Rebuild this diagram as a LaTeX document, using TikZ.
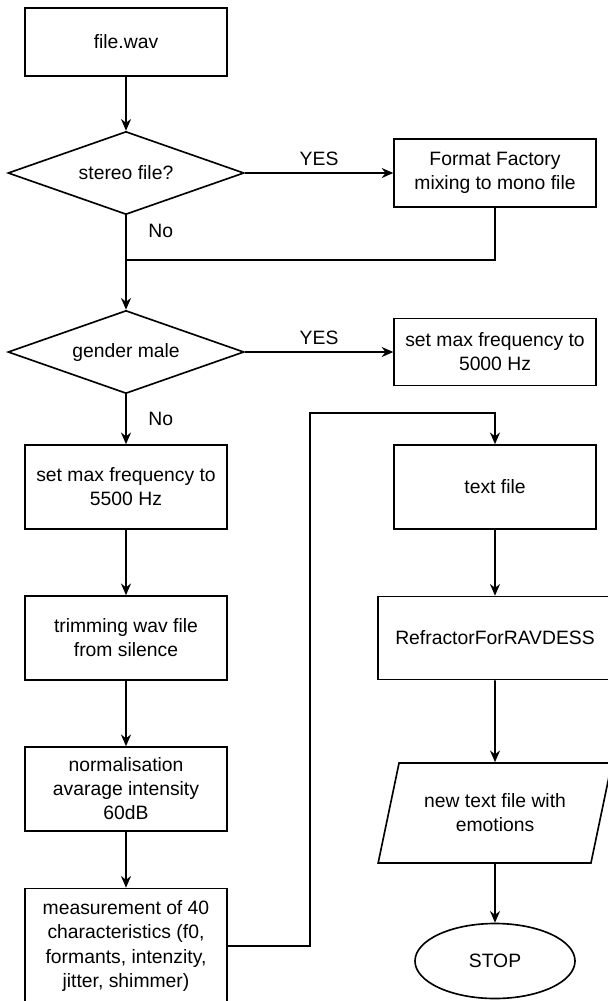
\documentclass[tikz,border=0pt]{standalone}
\usepackage{fontspec}
\setmainfont{Liberation Sans}
\usetikzlibrary{arrows.meta,shapes.geometric,positioning}
\begin{document}
\begin{tikzpicture}[>={Stealth[length=3.5mm,width=3mm]},x=0.03cm,y=-0.03cm,line width=1.4pt,
		font=\fontsize{16.5}{20.5}\selectfont,
		box/.style={draw,rectangle,align=center,inner sep=0pt,minimum width=6.05cm,minimum height=2.52cm},
		decision/.style={draw,diamond,aspect=2.84,inner sep=0pt,minimum width=7.08cm,minimum height=2.49cm},
		data/.style={draw,trapezium,trapezium left angle=68,trapezium right angle=112,trapezium stretches=true,
			align=center,inner sep=0pt,minimum width=7.02cm,minimum height=3cm},
		term/.style={draw,ellipse,minimum width=4.8cm,minimum height=2.25cm},
		lbl/.style={inner sep=0.2cm}]
	\useasboundingbox (0,0) rectangle (607,1001);
	% left column
	\node[box,minimum height=2.04cm] (wav) at (126,42) {file.wav};
	\node[decision] (stereo) at (126,173) {stereo file?};
	\node[box,minimum height=2.04cm] (mono) at (495,173) {Format Factory\\mixing to mono file};
	\coordinate (merge) at (126,260);
	\node[decision] (gender) at (126,352) {gender male};
	\node[box,minimum height=2.01cm] (hz5000) at (495,352) {set max frequency to\\5000 Hz};
	\node[box] (hz5500) at (126,487) {set max frequency to\\5500 Hz};
	\node[box] (trim) at (126,638) {trimming wav file\\from silence};
	\node[box] (norm) at (126,789) {normalisation\\avarage intensity\\60dB};
	\node[box,minimum height=3.45cm] (meas) at (126,946) {measurement of 40\\characteristics (f0,\\formants, intenzity,\\jitter, shimmer)};
	% right column
	\coordinate (loop) at (310,413);
	\node[box] (txt) at (495,487) {text file};
	\node[box,minimum width=7.02cm,minimum height=2.49cm] (refr) at (495,638) {RefractorForRAVDESS};
	\node[data] (emo) at (495,813) {new text file with\\emotions};
	\node[term] (stop) at (495,961) {STOP};
	% connectors
	\draw[->] (wav) -- (stereo);
	\draw[->] (stereo.east) -- node[lbl,above] (yes1) {YES} (mono.west);
	\draw (stereo.south) -- node[lbl,right=0.45cm,pos=0.35] (no1) {No} (merge);
	\draw (mono.south) |- (merge);
	\draw[->] (merge) -- (gender.north);
	\draw[->] (gender.east) -- node[lbl,above] (yes2) {YES} (hz5000.west);
	\draw[->] (gender.south) -- node[lbl,right=0.45cm] (no2) {No} (hz5500.north);
	\draw[->] (hz5500) -- (trim);
	\draw[->] (trim) -- (norm);
	\draw[->] (norm) -- (meas);
	\draw[->] (meas.east) -| (loop) -| (txt.north);
	\draw[->] (txt) -- (refr);
	\draw[->] (refr) -- (emo);
	\draw[->] (emo) -- (stop);
\end{tikzpicture}
\end{document}
